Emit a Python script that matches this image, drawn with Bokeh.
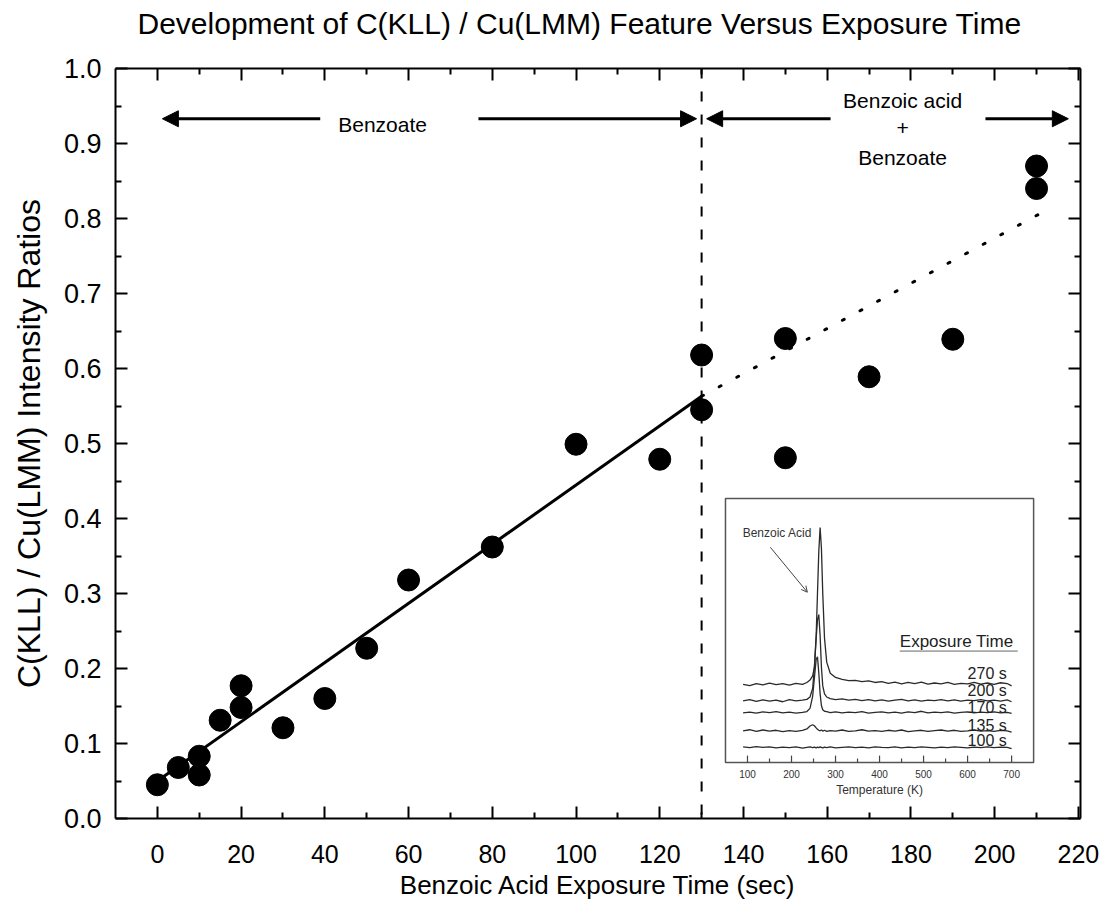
from bokeh.plotting import figure
from bokeh.models import (Range1d, LinearAxis, FixedTicker, Span, Arrow,
                          NormalHead, OpenHead, Title)
from bokeh.core.properties import value
from bokeh.embed import file_html
from bokeh.resources import INLINE

# ---------------- data ----------------
title_text = "Development of C(KLL) / Cu(LMM) Feature Versus Exposure Time"

exposure_s = [0, 5, 10, 10, 15, 20, 20, 30, 40, 50, 60, 80, 100, 120,
              130, 130, 150, 150, 170, 190, 210, 210]
ratio = [0.045, 0.068, 0.083, 0.058, 0.131, 0.177, 0.148, 0.121, 0.160,
         0.227, 0.318, 0.362, 0.499, 0.479, 0.618, 0.545, 0.640, 0.481,
         0.589, 0.639, 0.870, 0.840]

fit_x = [0, 130]
fit_y = [0.050, 0.563]
extrap_x = [130, 212]
extrap_y = [0.563, 0.810]

boundary_s = 130

x_ticks = [0, 20, 40, 60, 80, 100, 120, 140, 160, 180, 200, 220]
x_minor = [10, 30, 50, 70, 90, 110, 130, 150, 170, 190, 210]
y_ticks = [0.0, 0.1, 0.2, 0.3, 0.4, 0.5, 0.6, 0.7, 0.8, 0.9, 1.0]
y_tick_labels = ["0.0", "0.1", "0.2", "0.3", "0.4", "0.5", "0.6", "0.7",
                 "0.8", "0.9", "1.0"]
y_minor = [0.05, 0.15, 0.25, 0.35, 0.45, 0.55, 0.65, 0.75, 0.85, 0.95]

# region arrows (x start -> x end, at one height)
arrow_x_start = [38.9, 76.7, 160.8, 197.8]
arrow_x_end = [1.2, 128.8, 131.2, 217.6]
arrow_y = 0.933
region_text = ["Benzoate", "Benzoic acid", "+", "Benzoate"]
region_text_x = [53.8, 178, 178, 178]
region_text_y = [0.925, 0.958, 0.921, 0.881]

# inset: TPD spectra (temperature K, intensity a.u.)
temp_k = [90, 105, 120, 135, 150, 165, 180, 195, 210, 225,
          235, 242, 248, 252, 256, 259, 262, 265, 268, 271,
          275, 280, 288, 300, 315, 330, 345, 360, 375, 390,
          405, 420, 435, 450, 465, 480, 495, 510, 525, 540,
          555, 570, 585, 600, 615, 630, 645, 660, 675, 690, 700]
tpd_270 = [29.6, 29.1, 29.9, 29.4, 30.1, 29.5, 29.9, 29.3, 30.0, 29.6,
           30.3, 31.2, 32.8, 36.0, 48.0, 64.0, 80.0, 89.0, 81.0, 64.0,
           47.0, 38.0, 33.8, 32.2, 31.5, 31.0, 31.1, 30.6, 30.9, 30.3,
           30.6, 30.0, 30.4, 29.8, 30.3, 29.9, 30.4, 29.7, 30.1, 29.8,
           30.3, 29.6, 30.0, 29.8, 30.3, 29.7, 30.1, 29.6, 30.2, 29.9, 29.0]
tpd_200 = [23.3, 23.8, 23.1, 23.7, 23.2, 23.6, 23.0, 23.8, 23.3, 23.6,
           23.9, 24.8, 28.0, 36.0, 47.0, 54.0, 56.0, 48.0, 36.0, 29.0,
           26.0, 24.8, 24.2, 23.8, 24.1, 23.6, 23.9, 23.4, 23.8, 23.3,
           23.7, 23.2, 23.6, 23.9, 23.3, 23.7, 23.2, 23.6, 23.4, 23.8,
           23.3, 23.7, 23.2, 23.6, 23.4, 23.8, 23.3, 23.6, 23.2, 23.7, 23.0]
tpd_170 = [18.8, 19.1, 18.7, 19.2, 18.9, 19.3, 18.8, 19.1, 18.7, 19.0,
           19.3, 20.5, 25.0, 32.0, 39.0, 40.0, 34.0, 26.0, 21.5, 20.0,
           19.4, 19.3, 18.9, 19.2, 18.8, 19.1, 18.9, 19.3, 18.7, 19.0,
           19.2, 18.8, 19.1, 18.7, 19.2, 18.9, 19.4, 18.8, 19.1, 18.9,
           19.2, 18.7, 19.0, 19.2, 18.8, 19.1, 18.9, 19.2, 18.8, 19.0, 18.6]
tpd_135 = [12.0, 12.4, 11.8, 12.3, 11.9, 12.2, 11.7, 12.1, 11.8, 12.2,
           12.7, 13.8, 14.3, 13.9, 13.1, 12.6, 12.2, 12.0, 12.3, 11.9,
           12.2, 11.8, 12.1, 11.9, 12.3, 11.8, 12.0, 12.4, 11.9, 12.1,
           11.8, 12.2, 11.9, 12.3, 11.7, 12.0, 12.2, 11.8, 12.1, 12.3,
           11.9, 12.2, 11.8, 12.0, 12.3, 11.9, 12.1, 11.8, 12.2, 12.0, 11.5]
tpd_100 = [5.9, 5.6, 6.0, 5.7, 5.9, 5.5, 5.8, 5.6, 5.9, 5.4,
           5.7, 5.9, 5.6, 5.8, 5.5, 5.8, 5.6, 5.9, 5.7, 5.5,
           5.8, 5.6, 5.9, 5.5, 5.7, 5.9, 5.6, 5.8, 5.5, 5.9,
           5.7, 5.6, 5.9, 5.5, 5.8, 5.6, 5.9, 5.7, 5.5, 5.8,
           5.6, 5.9, 5.7, 5.5, 5.8, 5.6, 5.9, 5.6, 5.8, 5.7, 5.2]
tpd_labels = ["270 s", "200 s", "170 s", "135 s", "100 s"]
tpd_label_y = [33.6, 27.3, 20.9, 14.0, 8.3]
inset_ticks = [100, 200, 300, 400, 500, 600, 700]
inset_minor = [150, 250, 350, 450, 550, 650]
inset_tick_labels = ["100", "200", "300", "400", "500", "600", "700"]

# ---------------- layout constants ----------------
XR = (-10, 220.5)
YR = (0, 1)
INSET_MAIN = (135.7, 209.3, 0.0747, 0.4267)   # box in main data coords
INSET_T = (50, 750)
INSET_I = (0, 100)

FONT = "Liberation Sans"

p = figure(width=1101, height=915, x_range=Range1d(*XR), y_range=Range1d(*YR),
           output_backend="svg", toolbar_location=None,
           min_border_left=115, min_border_right=21,
           min_border_top=68, min_border_bottom=97)
p.background_fill_color = "white"
p.border_fill_color = "white"
p.outline_line_color = None
p.xgrid.visible = False
p.ygrid.visible = False

# inset extra ranges (so inset data goes through Bokeh scales)
ix0, ix1, iy0, iy1 = INSET_MAIN
sx = (INSET_T[1] - INSET_T[0]) / (ix1 - ix0)
sy = (INSET_I[1] - INSET_I[0]) / (iy1 - iy0)
p.extra_x_ranges = {"tx": Range1d(INSET_T[0] - (ix0 - XR[0]) * sx,
                                  INSET_T[1] + (XR[1] - ix1) * sx)}
p.extra_y_ranges = {"ty": Range1d(INSET_I[0] - (iy0 - YR[0]) * sy,
                                  INSET_I[1] + (YR[1] - iy1) * sy)}


def style_axis(ax, ticks, minor, major_in=12, minor_in=6):
    ax.ticker = FixedTicker(ticks=ticks, minor_ticks=minor)
    ax.major_tick_in = major_in
    ax.major_tick_out = 0
    ax.minor_tick_in = minor_in
    ax.minor_tick_out = 0
    ax.axis_line_width = 2
    ax.major_tick_line_width = 2
    ax.minor_tick_line_width = 2
    ax.axis_line_color = "black"
    ax.major_tick_line_color = "black"
    ax.minor_tick_line_color = "black"
    ax.major_label_text_color = "black"
    ax.axis_label_text_color = "black"


xa = p.xaxis[0]
style_axis(xa, x_ticks, x_minor)
xa.axis_label = "Benzoic Acid Exposure Time (sec)"
xa.axis_label_text_font = FONT
xa.axis_label_text_font_size = "26px"
xa.axis_label_text_font_style = "normal"
xa.axis_label_standoff = 4
xa.major_label_text_font = FONT
xa.major_label_text_font_size = "25px"
xa.major_label_standoff = 26

ya = p.yaxis[0]
style_axis(ya, y_ticks, y_minor)
ya.axis_label = "C(KLL) / Cu(LMM) Intensity Ratios"
ya.axis_label_text_font = FONT
ya.axis_label_text_font_size = "32px"
ya.axis_label_text_font_style = "normal"
ya.axis_label_standoff = 14
ya.major_label_text_font = FONT
ya.major_label_text_font_size = "27px"
ya.major_label_standoff = 14
ya.major_label_overrides = {t: l for t, l in zip(y_ticks, y_tick_labels)}

top = LinearAxis()
style_axis(top, x_ticks, x_minor)
top.major_label_text_font_size = "0px"
top.major_label_standoff = 0
p.add_layout(top, "above")

right = LinearAxis()
style_axis(right, y_ticks, y_minor)
right.major_label_text_font_size = "0px"
right.major_label_standoff = 0
p.add_layout(right, "right")

# spacer between frame and title, then the title (outermost)
p.add_layout(Title(text=" ", text_font=FONT, text_font_size="24px",
                   standoff=0), "above")
p.add_layout(Title(text=title_text, text_font=FONT, text_font_size="30px",
                   text_font_style="normal", text_color="black",
                   align="left", offset=22, standoff=0), "above")

# boundary line
p.add_layout(Span(location=boundary_s, dimension="height", line_color="black",
                  line_width=2, line_dash="10 13"))

# fit lines
p.line(fit_x, fit_y, line_color="black", line_width=3)
p.line(extrap_x, extrap_y, line_color="black", line_width=3,
       line_dash="2 18", line_cap="round")

# region arrows
for xs, xe in zip(arrow_x_start, arrow_x_end):
    p.add_layout(Arrow(x_start=xs, y_start=arrow_y, x_end=xe, y_end=arrow_y,
                       line_width=3, line_color="black",
                       end=NormalHead(size=16, fill_color="black",
                                      line_color="black", line_width=1)))
p.text(x=region_text_x, y=region_text_y, text=region_text,
       text_font=value(FONT), text_font_size=value("21px"),
       text_align="center", text_baseline="middle", text_color="black")

# inset box
p.quad(left=[INSET_T[0]], right=[INSET_T[1]], bottom=[INSET_I[0]], top=[INSET_I[1]],
       fill_color="white", line_color="#555555", line_width=1.5,
       x_range_name="tx", y_range_name="ty")

# scatter on top of lines
p.scatter(exposure_s, ratio, size=22, color="black")

# inset content
for tr in [tpd_270, tpd_200, tpd_170, tpd_135, tpd_100]:
    p.line(temp_k, tr, line_color="#2a2a2a", line_width=1.3,
           x_range_name="tx", y_range_name="ty")
p.text(x=[600] * len(tpd_labels), y=tpd_label_y, text=tpd_labels,
       text_font=value(FONT), text_font_size=value("16px"),
       text_align="left", text_baseline="middle", text_color="#222222",
       x_range_name="tx", y_range_name="ty")
p.segment(x0=inset_ticks, y0=[0] * 7, x1=inset_ticks, y1=[2.6] * 7,
          line_color="#444444", line_width=1.2, x_range_name="tx", y_range_name="ty")
p.segment(x0=inset_minor, y0=[0] * 6, x1=inset_minor, y1=[1.5] * 6,
          line_color="#444444", line_width=1.2, x_range_name="tx", y_range_name="ty")
p.text(x=inset_ticks, y=[-4.3] * 7, text=inset_tick_labels,
       text_font=value(FONT), text_font_size=value("10px"),
       text_align="center", text_baseline="middle", text_color="#333333",
       x_range_name="tx", y_range_name="ty")
p.text(x=[400], y=[-10.6], text=["Temperature (K)"],
       text_font=value(FONT), text_font_size=value("12px"),
       text_align="center", text_baseline="middle", text_color="#333333",
       x_range_name="tx", y_range_name="ty")
p.text(x=[446], y=[45.8], text=["Exposure Time"],
       text_font=value(FONT), text_font_size=value("17px"),
       text_align="left", text_baseline="middle", text_color="#222222",
       x_range_name="tx", y_range_name="ty")
p.segment(x0=[446], y0=[42.2], x1=[714], y1=[42.2], line_color="#666666",
          line_width=1, x_range_name="tx", y_range_name="ty")
p.text(x=[89], y=[86.8], text=["Benzoic Acid"],
       text_font=value(FONT), text_font_size=value("12px"),
       text_align="left", text_baseline="middle", text_color="#333333",
       x_range_name="tx", y_range_name="ty")
p.add_layout(Arrow(x_start=152, y_start=81.5, x_end=236, y_end=64.5,
                   line_width=1, line_color="#444444",
                   end=OpenHead(size=6, line_color="#444444", line_width=1),
                   x_range_name="tx", y_range_name="ty"))

open("out.html", "w").write(file_html(p, INLINE))
